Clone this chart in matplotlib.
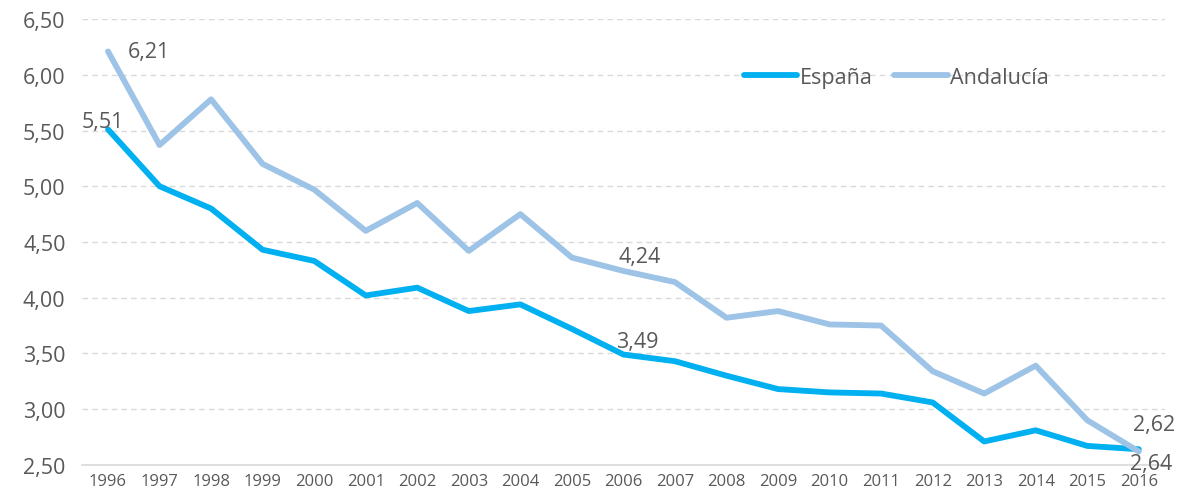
import matplotlib
matplotlib.use("Agg")
import matplotlib.pyplot as plt

years = [str(y) for y in range(1996, 2017)]
espana = [5.51, 5.00, 4.80, 4.43, 4.33, 4.02, 4.09, 3.88, 3.94, 3.72, 3.49,
          3.43, 3.30, 3.18, 3.15, 3.14, 3.06, 2.71, 2.81, 2.67, 2.64]
andalucia = [6.21, 5.37, 5.78, 5.20, 4.97, 4.60, 4.85, 4.42, 4.75, 4.36, 4.24,
             4.14, 3.82, 3.88, 3.76, 3.75, 3.34, 3.14, 3.39, 2.90, 2.62]
yticks = [2.5, 3.0, 3.5, 4.0, 4.5, 5.0, 5.5, 6.0, 6.5]

C_ESP = "#00B0F0"
C_AND = "#9DC3E6"
TXT = "#595959"

plt.rcParams["font.family"] = ["Open Sans", "DejaVu Sans"]

fig = plt.figure(figsize=(11.92, 5.02), dpi=100)
ax = fig.add_axes([0.069, 0.072, 0.908, 0.888])

x = list(range(len(years)))
ax.plot(x, espana, color=C_ESP, lw=4.2, label="España", solid_capstyle="round", solid_joinstyle="round")
ax.plot(x, andalucia, color=C_AND, lw=4.2, label="Andalucía", solid_capstyle="round", solid_joinstyle="round")

ax.set_xlim(-0.5, len(years) - 0.5)
ax.set_ylim(2.5, 6.5)
ax.set_yticks(yticks)
ax.set_yticklabels([f"{v:.2f}".replace(".", ",") for v in yticks], fontsize=15.5, color=TXT)
ax.set_xticks(x)
ax.set_xticklabels(years, fontsize=12, color=TXT)
ax.tick_params(length=0)
ax.tick_params(axis="y", pad=12)
ax.tick_params(axis="x", pad=6)

ax.grid(axis="y", color="#D9D9D9", linestyle=(0, (4, 3)), lw=1)
ax.set_axisbelow(True)
for s in ["top", "right", "left"]:
    ax.spines[s].set_visible(False)
ax.spines["bottom"].set_color("#D9D9D9")
ax.spines["bottom"].set_linewidth(1.2)

def fmt(v):
    return f"{v:.2f}".replace(".", ",")

ax.annotate(fmt(espana[0]), (0, espana[0]), xytext=(-4, -2), textcoords="offset points",
            ha="center", va="bottom", fontsize=15.5, color=TXT)
ax.annotate(fmt(andalucia[0]), (0, andalucia[0]), xytext=(14, 0), textcoords="offset points",
            ha="left", va="center", fontsize=15.5, color=TXT)
ax.annotate(fmt(andalucia[10]), (10, andalucia[10]), xytext=(12, 3), textcoords="offset points",
            ha="center", va="bottom", fontsize=15.5, color=TXT)
ax.annotate(fmt(espana[10]), (10, espana[10]), xytext=(10, 2), textcoords="offset points",
            ha="center", va="bottom", fontsize=15.5, color=TXT)
ax.annotate(fmt(andalucia[20]), (20, andalucia[20]), xytext=(-4, 12), textcoords="offset points",
            ha="left", va="bottom", fontsize=15.5, color=TXT)
ax.annotate(fmt(espana[20]), (20, espana[20]), xytext=(-6, -3), textcoords="offset points",
            ha="left", va="top", fontsize=15.5, color=TXT)

leg = ax.legend(loc="center", bbox_to_anchor=(0.752, 0.87), ncol=2, frameon=False,
                fontsize=15.5, handlelength=2.5, handletextpad=0.1, columnspacing=1.0)
for t in leg.get_texts():
    t.set_color(TXT)

fig.savefig("out.png", dpi=100)
